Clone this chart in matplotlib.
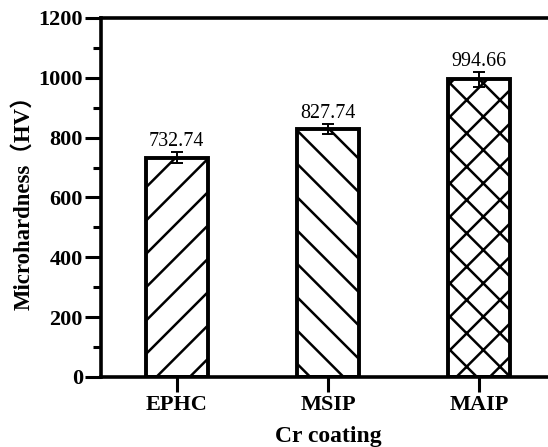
import matplotlib
matplotlib.use('Agg')
import matplotlib.pyplot as plt
import numpy as np

coatings = ['EPHC', 'MSIP', 'MAIP']
hardness = [732.74, 827.74, 994.66]
errors = [18, 17, 25]
hatches = ['//', '\\\\', 'xx']

plt.rcParams['font.family'] = ['Liberation Serif', 'Noto Sans CJK SC']
plt.rcParams['hatch.linewidth'] = 0.9
plt.rcParams['hatch.color'] = 'black'

# dpi 200 so the hatch spacing comes out wide like the original
fig = plt.figure(figsize=(2.74, 2.235), dpi=200)
ax = fig.add_axes([101/548, 1 - 377/447, 454/548, 359/447])

x = np.arange(len(coatings))
bars = ax.bar(x, hardness, width=0.41, color='white', edgecolor='black',
              linewidth=1.4, zorder=2)
for b, h in zip(bars, hatches):
    b.set_hatch(h)
ax.errorbar(x, hardness, yerr=errors, fmt='none', ecolor='black',
            elinewidth=0.7, capsize=2.2, capthick=0.7, zorder=3)

for xi, v, e in zip(x, hardness, errors):
    ax.annotate('%.2f' % v, (xi, v + e), xytext=(0, 0.5), textcoords='offset points',
                ha='center', va='bottom', fontsize=7.2)

ax.set_xlim(-0.5, 2.5)
ax.set_ylim(0, 1200)
ax.set_yticks(np.arange(0, 1201, 200))
ax.set_yticks(np.arange(100, 1200, 200), minor=True)
ax.set_xticks(x)
ax.set_xticklabels(coatings, fontweight='bold', fontsize=8)
for lab in ax.get_yticklabels():
    lab.set_fontweight('bold')
    lab.set_fontsize(8)

ax.tick_params(axis='y', which='major', length=5.8, width=1.1, pad=0.7)
ax.tick_params(axis='y', which='minor', length=2.9, width=1.1)
ax.tick_params(axis='x', which='major', length=5.4, width=1.1, pad=1.2)
for s in ['left', 'bottom', 'top']:
    ax.spines[s].set_linewidth(1.3)
ax.spines['right'].set_visible(False)

ax.set_ylabel('Microhardness（HV）', fontweight='bold', fontsize=8.2, labelpad=1.5)
ax.set_xlabel('Cr coating', fontweight='bold', fontsize=8.5, labelpad=3.8)

fig.savefig('out.png', dpi=200)
